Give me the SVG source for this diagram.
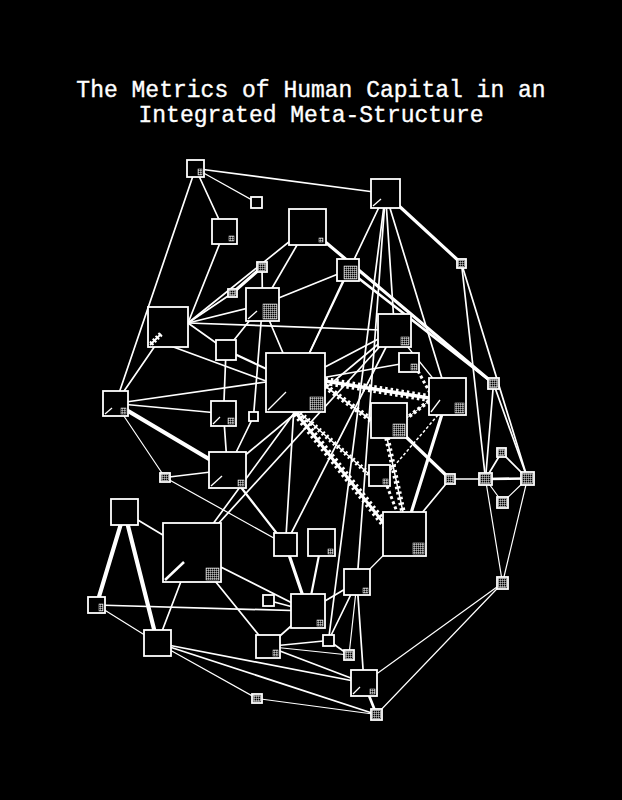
<svg xmlns="http://www.w3.org/2000/svg" width="622" height="800" viewBox="0 0 622 800">
<defs>
<style>
.bg{fill:#000}
.t{fill:#fff;stroke:#fff;stroke-width:0.35;font-family:"Courier New","Liberation Mono",monospace;font-size:23px;text-anchor:middle}
.e{stroke:#fff;fill:none;stroke-linecap:round}
.w1{stroke-width:1.2}
.w15{stroke-width:1.7}
.w2{stroke-width:2.2}
.w25{stroke-width:2.7}
.w3{stroke-width:3.2}
.w4{stroke-width:4.2}
.lb{stroke:#fff;fill:none}
.lt{stroke:#fff;fill:none}
.nd rect.b{fill:#000;stroke:#fff;stroke-width:1.8}
.gr{fill:url(#g);stroke:#fff;stroke-width:0.5}
.dg{stroke:#fff;stroke-width:1.3;fill:none}
</style>
<pattern id="g" width="2" height="2" patternUnits="userSpaceOnUse">
<path d="M0 0.25H2M0.25 0V2" stroke="#fff" stroke-width="0.6" fill="none"/>
</pattern>
</defs>
<rect class="bg" x="0" y="0" width="622" height="800"/>
<text class="t" x="311" y="97">The Metrics of Human Capital in an</text>
<text class="t" x="311" y="122">Integrated Meta-Structure</text>

<g id="connectors">
<line class="e w15" x1="195.5" y1="168.5" x2="385.5" y2="193.5"/>
<line class="e w1" x1="195.5" y1="168.5" x2="256.5" y2="202.5"/>
<line class="e w15" x1="195.5" y1="168.5" x2="224.5" y2="231.5"/>
<line class="e w15" x1="195.5" y1="168.5" x2="115.5" y2="403.5"/>
<line class="e w15" x1="224.5" y1="231.5" x2="188" y2="323"/>
<line class="e w15" x1="307.5" y1="227" x2="188" y2="323"/>
<line class="e w15" x1="307.5" y1="227" x2="262.5" y2="304.5"/>
<line class="e w3" x1="307.5" y1="227" x2="493.5" y2="383.5"/>
<line class="e w25" x1="348" y1="270" x2="493.5" y2="383.5"/>
<line class="e w3" x1="385.5" y1="193.5" x2="461.5" y2="263.5"/>
<line class="e w15" x1="385.5" y1="193.5" x2="394.5" y2="330.5"/>
<line class="e w15" x1="385.5" y1="193.5" x2="295.5" y2="382.5"/>
<line class="e w15" x1="385.5" y1="193.5" x2="357" y2="582"/>
<line class="e w15" x1="385.5" y1="193.5" x2="328.5" y2="640.5"/>
<line class="e w15" x1="385.5" y1="193.5" x2="447.5" y2="396.5"/>
<line class="e w15" x1="461.5" y1="263.5" x2="485.5" y2="479"/>
<line class="e w15" x1="461.5" y1="263.5" x2="527.5" y2="478.5"/>
<line class="e w3" x1="262" y1="267" x2="232.5" y2="293"/>
<line class="e w15" x1="262" y1="267" x2="262.5" y2="304.5"/>
<line class="e w15" x1="232.5" y1="293" x2="188" y2="323"/>
<line class="e w15" x1="262.5" y1="304.5" x2="188" y2="323"/>
<line class="e w15" x1="262.5" y1="304.5" x2="226" y2="350"/>
<line class="e w15" x1="262.5" y1="304.5" x2="348" y2="270"/>
<line class="e w15" x1="262.5" y1="304.5" x2="253.5" y2="416.5"/>
<line class="e w15" x1="262.5" y1="304.5" x2="295.5" y2="382.5"/>
<line class="e w15" x1="188" y1="323" x2="394.5" y2="330.5"/>
<line class="e w15" x1="188" y1="323" x2="226" y2="350"/>
<line class="e w15" x1="168" y1="345" x2="266" y2="381"/>
<line class="e w15" x1="168" y1="327" x2="115.5" y2="403.5"/>
<line class="e w15" x1="348" y1="270" x2="295.5" y2="382.5"/>
<line class="e w15" x1="226" y1="350" x2="223.5" y2="413.5"/>
<line class="e w2" x1="226" y1="350" x2="295.5" y2="382.5"/>
<line class="e w15" x1="115.5" y1="403.5" x2="266" y2="382"/>
<line class="e w15" x1="115.5" y1="403.5" x2="223.5" y2="413.5"/>
<line class="e w4" x1="115.5" y1="403.5" x2="227.5" y2="470"/>
<line class="e w1" x1="115.5" y1="403.5" x2="165" y2="477.5"/>
<line class="e w15" x1="223.5" y1="413.5" x2="227.5" y2="470"/>
<line class="e w15" x1="253.5" y1="416.5" x2="227.5" y2="470"/>
<line class="e w15" x1="165" y1="477.5" x2="227.5" y2="470"/>
<line class="e w1" x1="165" y1="477.5" x2="285.5" y2="544.5"/>
<line class="e w2" x1="227.5" y1="470" x2="285.5" y2="544.5"/>
<line class="e w4" x1="124.5" y1="512" x2="96.5" y2="605"/>
<line class="e w4" x1="124.5" y1="512" x2="157.5" y2="643"/>
<line class="e w15" x1="124.5" y1="512" x2="192" y2="552.5"/>
<line class="e w15" x1="96.5" y1="605" x2="308" y2="611"/>
<line class="e w1" x1="96.5" y1="605" x2="157.5" y2="643"/>
<line class="e w15" x1="192" y1="552.5" x2="157.5" y2="643"/>
<line class="e w15" x1="192" y1="552.5" x2="308" y2="611"/>
<line class="e w15" x1="192" y1="552.5" x2="268" y2="646.5"/>
<line class="e w15" x1="300" y1="405" x2="192" y2="552.5"/>
<line class="e w15" x1="295.5" y1="382.5" x2="285.5" y2="544.5"/>
<line class="e w15" x1="394.5" y1="330.5" x2="192" y2="552.5"/>
<line class="e w15" x1="394.5" y1="330.5" x2="285.5" y2="544.5"/>
<line class="e w15" x1="394.5" y1="330.5" x2="295.5" y2="382.5"/>
<line class="e w15" x1="394.5" y1="330.5" x2="227.5" y2="470"/>
<line class="e w1" x1="394.5" y1="330.5" x2="447.5" y2="396.5"/>
<line class="e w3" x1="285.5" y1="544.5" x2="308" y2="611"/>
<line class="e w2" x1="321.5" y1="542.5" x2="308" y2="611"/>
<line class="e w15" x1="268.5" y1="600.5" x2="308" y2="611"/>
<line class="e w15" x1="268" y1="646.5" x2="308" y2="611"/>
<line class="e w15" x1="308" y1="611" x2="357" y2="582"/>
<line class="e w15" x1="157.5" y1="643" x2="364" y2="683"/>
<line class="e w15" x1="157.5" y1="643" x2="376.5" y2="714.5"/>
<line class="e w1" x1="157.5" y1="643" x2="257" y2="698.5"/>
<line class="e w15" x1="268" y1="646.5" x2="328.5" y2="640.5"/>
<line class="e w1" x1="268" y1="646.5" x2="349" y2="655"/>
<line class="e w15" x1="268" y1="646.5" x2="364" y2="683"/>
<line class="e w1" x1="257" y1="698.5" x2="376.5" y2="714.5"/>
<line class="e w1" x1="357" y1="582" x2="404.5" y2="534"/>
<line class="e w15" x1="357" y1="582" x2="328.5" y2="640.5"/>
<line class="e w1" x1="357" y1="582" x2="349" y2="655"/>
<line class="e w15" x1="357" y1="582" x2="364" y2="683"/>
<line class="e w15" x1="328.5" y1="640.5" x2="349" y2="655"/>
<line class="e w25" x1="364" y1="683" x2="376.5" y2="714.5"/>
<line class="e w1" x1="502.5" y1="583" x2="364" y2="683"/>
<line class="e w1" x1="502.5" y1="583" x2="376.5" y2="714.5"/>
<line class="e w15" x1="295.5" y1="382.5" x2="409" y2="362.5"/>
<line class="e w3" x1="447.5" y1="396.5" x2="404.5" y2="534"/>
<line class="e w3" x1="389" y1="420.5" x2="450" y2="479"/>
<line class="e w15" x1="450" y1="479" x2="404.5" y2="534"/>
<line class="e w15" x1="450" y1="479" x2="485.5" y2="479"/>
<line class="e w15" x1="493.5" y1="383.5" x2="485.5" y2="479"/>
<line class="e w15" x1="493.5" y1="383.5" x2="527.5" y2="478.5"/>
<line class="e w15" x1="485.5" y1="479" x2="501.5" y2="452.5"/>
<line class="e w15" x1="501.5" y1="452.5" x2="527.5" y2="478.5"/>
<line class="e w25" x1="485.5" y1="479" x2="527.5" y2="478.5"/>
<line class="e w1" x1="485.5" y1="479" x2="502.5" y2="502.5"/>
<line class="e w1" x1="502.5" y1="502.5" x2="527.5" y2="478.5"/>
<line class="e w1" x1="485.5" y1="479" x2="502.5" y2="583"/>
<line class="e w1" x1="527.5" y1="478.5" x2="502.5" y2="583"/>
<!-- ladder / dashed connectors -->
<line class="lb" stroke-width="3.5" x1="325" y1="381" x2="429" y2="398"/>
<line class="lt" stroke-width="8" stroke-dasharray="2.5 3" x1="325" y1="381" x2="429" y2="398"/>
<line class="lb" stroke-width="3" x1="296" y1="413" x2="386" y2="526"/>
<line class="lt" stroke-width="8" stroke-dasharray="2.5 3" x1="296" y1="413" x2="386" y2="526"/>
<line class="lb" stroke-width="1.8" x1="325" y1="386" x2="371" y2="420"/>
<line class="lt" stroke-width="6" stroke-dasharray="2.5 3" x1="325" y1="386" x2="371" y2="420"/>
<line class="lb" stroke-width="1.5" x1="300" y1="413" x2="369" y2="474"/>
<line class="lt" stroke-width="5" stroke-dasharray="2 3" x1="300" y1="413" x2="369" y2="474"/>
<line class="lb" stroke-width="1.5" x1="387" y1="438" x2="403" y2="512"/>
<line class="lt" stroke-width="5.5" stroke-dasharray="2.5 3" x1="387" y1="438" x2="403" y2="512"/>
<line class="lt" stroke-width="3" stroke-dasharray="3 2.5" x1="418" y1="371" x2="430" y2="393"/>
<line class="lb" stroke-width="1" x1="429" y1="401" x2="407" y2="418"/>
<line class="lt" stroke-width="4" stroke-dasharray="3 2.5" x1="429" y1="401" x2="407" y2="418"/>
<line class="lt" stroke-width="3" stroke-dasharray="3 2.5" x1="387" y1="486" x2="397" y2="512"/>
<line class="lt" stroke-width="1.5" stroke-dasharray="3 2" x1="438" y1="415" x2="389" y2="472"/>
</g>

<g id="n1" class="nd"><rect class="b" x="187" y="160" width="17" height="17"/><rect class="gr" x="198" y="169" width="4" height="6"/></g>
<g id="n2" class="nd"><rect class="b" x="251" y="197" width="11" height="11"/></g>
<g id="n3" class="nd"><rect class="b" x="212" y="219" width="25" height="25"/><rect class="gr" x="229" y="236" width="5" height="5"/></g>
<g id="n4" class="nd"><rect class="b" x="289" y="209" width="37" height="36"/><rect class="gr" x="319" y="238" width="4" height="4"/></g>
<g id="n5" class="nd"><rect class="b" x="257" y="262" width="10" height="10"/><rect class="gr" x="258.5" y="263.5" width="7" height="7"/></g>
<g id="n6" class="nd"><rect class="b" x="228" y="289" width="9" height="8"/><rect class="gr" x="229.5" y="290.5" width="6" height="5"/></g>
<g id="n7" class="nd"><rect class="b" x="246" y="288" width="33" height="33"/><rect class="gr" x="263" y="304" width="14" height="15"/><line class="dg" x1="248" y1="319" x2="257" y2="311"/></g>
<g id="n8" class="nd"><rect class="b" x="148" y="307" width="40" height="40"/><line stroke="#fff" stroke-width="2" x1="150" y1="345" x2="161" y2="334"/><line stroke="#fff" stroke-width="5" stroke-dasharray="2 2" x1="151" y1="344" x2="161" y2="334"/></g>
<g id="n9" class="nd"><rect class="b" x="216" y="340" width="20" height="20"/></g>
<g id="n10" class="nd"><rect class="b" x="371" y="179" width="29" height="29"/><line class="dg" x1="373" y1="206" x2="381" y2="199"/></g>
<g id="n11" class="nd"><rect class="b" x="457" y="259" width="9" height="9"/><rect class="gr" x="458.5" y="260.5" width="6" height="6"/></g>
<g id="n12" class="nd"><rect class="b" x="337" y="259" width="22" height="22"/><rect class="gr" x="344" y="266" width="13" height="13"/></g>
<g id="n13" class="nd"><rect class="b" x="378" y="314" width="33" height="33"/><rect class="gr" x="401" y="337" width="8" height="8"/></g>
<g id="n14" class="nd"><rect class="b" x="103" y="391" width="25" height="25"/><rect class="gr" x="121" y="408" width="5" height="6"/><line class="dg" x1="105" y1="414" x2="112" y2="408"/></g>
<g id="n15" class="nd"><rect class="b" x="211" y="401" width="25" height="25"/><rect class="gr" x="228" y="418" width="6" height="6"/><line class="dg" x1="213" y1="424" x2="220" y2="417"/></g>
<g id="n16" class="nd"><rect class="b" x="249" y="412" width="9" height="9"/></g>
<g id="n17" class="nd"><rect class="b" x="209" y="452" width="37" height="36"/><rect class="gr" x="238" y="480" width="6" height="6"/><line class="dg" x1="211" y1="486" x2="222" y2="476"/></g>
<g id="n18" class="nd"><rect class="b" x="160" y="473" width="10" height="9"/><rect class="gr" x="161.5" y="474.5" width="7" height="6"/></g>
<g id="n19" class="nd"><rect class="b" x="111" y="499" width="27" height="26"/></g>
<g id="n20" class="nd"><rect class="b" x="163" y="523" width="58" height="59"/><rect class="gr" x="206" y="568" width="13" height="12"/><line stroke="#fff" stroke-width="2.5" x1="165" y1="580" x2="184" y2="562"/></g>
<g id="n21" class="nd"><rect class="b" x="274" y="533" width="23" height="23"/></g>
<g id="n22" class="nd"><rect class="b" x="266" y="353" width="59" height="59"/><rect class="gr" x="310" y="397" width="13" height="13"/><line class="dg" x1="268" y1="410" x2="286" y2="392"/></g>
<g id="n23" class="nd"><rect class="b" x="399" y="353" width="20" height="19"/><rect class="gr" x="411" y="364" width="6" height="6"/></g>
<g id="n24" class="nd"><rect class="b" x="429" y="378" width="37" height="37"/><rect class="gr" x="455" y="403" width="9" height="10"/><line class="dg" x1="431" y1="412" x2="440" y2="400"/></g>
<g id="n25" class="nd"><rect class="b" x="371" y="403" width="36" height="35"/><rect class="gr" x="393" y="424" width="12" height="12"/></g>
<g id="n26" class="nd"><rect class="b" x="369" y="465" width="21" height="21"/><rect class="gr" x="383" y="479" width="5" height="5"/></g>
<g id="n27" class="nd"><rect class="b" x="445" y="474" width="10" height="10"/><rect class="gr" x="446.5" y="475.5" width="7" height="7"/></g>
<g id="n28" class="nd"><rect class="b" x="383" y="512" width="43" height="44"/><rect class="gr" x="413" y="543" width="11" height="11"/></g>
<g id="n29" class="nd"><rect class="b" x="488" y="378" width="11" height="11"/><rect class="gr" x="489.5" y="379.5" width="8" height="8"/></g>
<g id="n30" class="nd"><rect class="b" x="479" y="473" width="13" height="12"/><rect class="gr" x="480.5" y="474.5" width="10" height="9"/></g>
<g id="n31" class="nd"><rect class="b" x="497" y="448" width="9" height="9"/><rect class="gr" x="498.5" y="449.5" width="6" height="6"/></g>
<g id="n32" class="nd"><rect class="b" x="521" y="472" width="13" height="13"/><rect class="gr" x="522.5" y="473.5" width="10" height="10"/></g>
<g id="n33" class="nd"><rect class="b" x="497" y="497" width="11" height="11"/><rect class="gr" x="498.5" y="498.5" width="8" height="8"/></g>
<g id="n34" class="nd"><rect class="b" x="497" y="577" width="11" height="12"/><rect class="gr" x="498.5" y="578.5" width="8" height="9"/></g>
<g id="n35" class="nd"><rect class="b" x="88" y="597" width="17" height="16"/><rect class="gr" x="99" y="604" width="4" height="7"/></g>
<g id="n36" class="nd"><rect class="b" x="144" y="630" width="27" height="26"/></g>
<g id="n37" class="nd"><rect class="b" x="263" y="595" width="11" height="11"/></g>
<g id="n38" class="nd"><rect class="b" x="291" y="594" width="34" height="34"/><rect class="gr" x="317" y="620" width="6" height="6"/></g>
<g id="n39" class="nd"><rect class="b" x="256" y="635" width="24" height="23"/><rect class="gr" x="273" y="650" width="5" height="6"/></g>
<g id="n40" class="nd"><rect class="b" x="252" y="694" width="10" height="9"/><rect class="gr" x="253.5" y="695.5" width="7" height="6"/></g>
<g id="n41" class="nd"><rect class="b" x="308" y="529" width="27" height="27"/><rect class="gr" x="328" y="549" width="5" height="5"/></g>
<g id="n42" class="nd"><rect class="b" x="344" y="569" width="26" height="26"/><rect class="gr" x="363" y="588" width="5" height="5"/></g>
<g id="n44" class="nd"><rect class="b" x="323" y="635" width="11" height="11"/></g>
<g id="n45" class="nd"><rect class="b" x="344" y="650" width="10" height="10"/><rect class="gr" x="345.5" y="651.5" width="7" height="7"/></g>
<g id="n46" class="nd"><rect class="b" x="351" y="670" width="26" height="26"/><rect class="gr" x="370" y="689" width="5" height="5"/><line class="dg" x1="353" y1="694" x2="360" y2="687"/></g>
<g id="n47" class="nd"><rect class="b" x="371" y="709" width="11" height="11"/><rect class="gr" x="372.5" y="710.5" width="8" height="8"/></g>
</svg>
